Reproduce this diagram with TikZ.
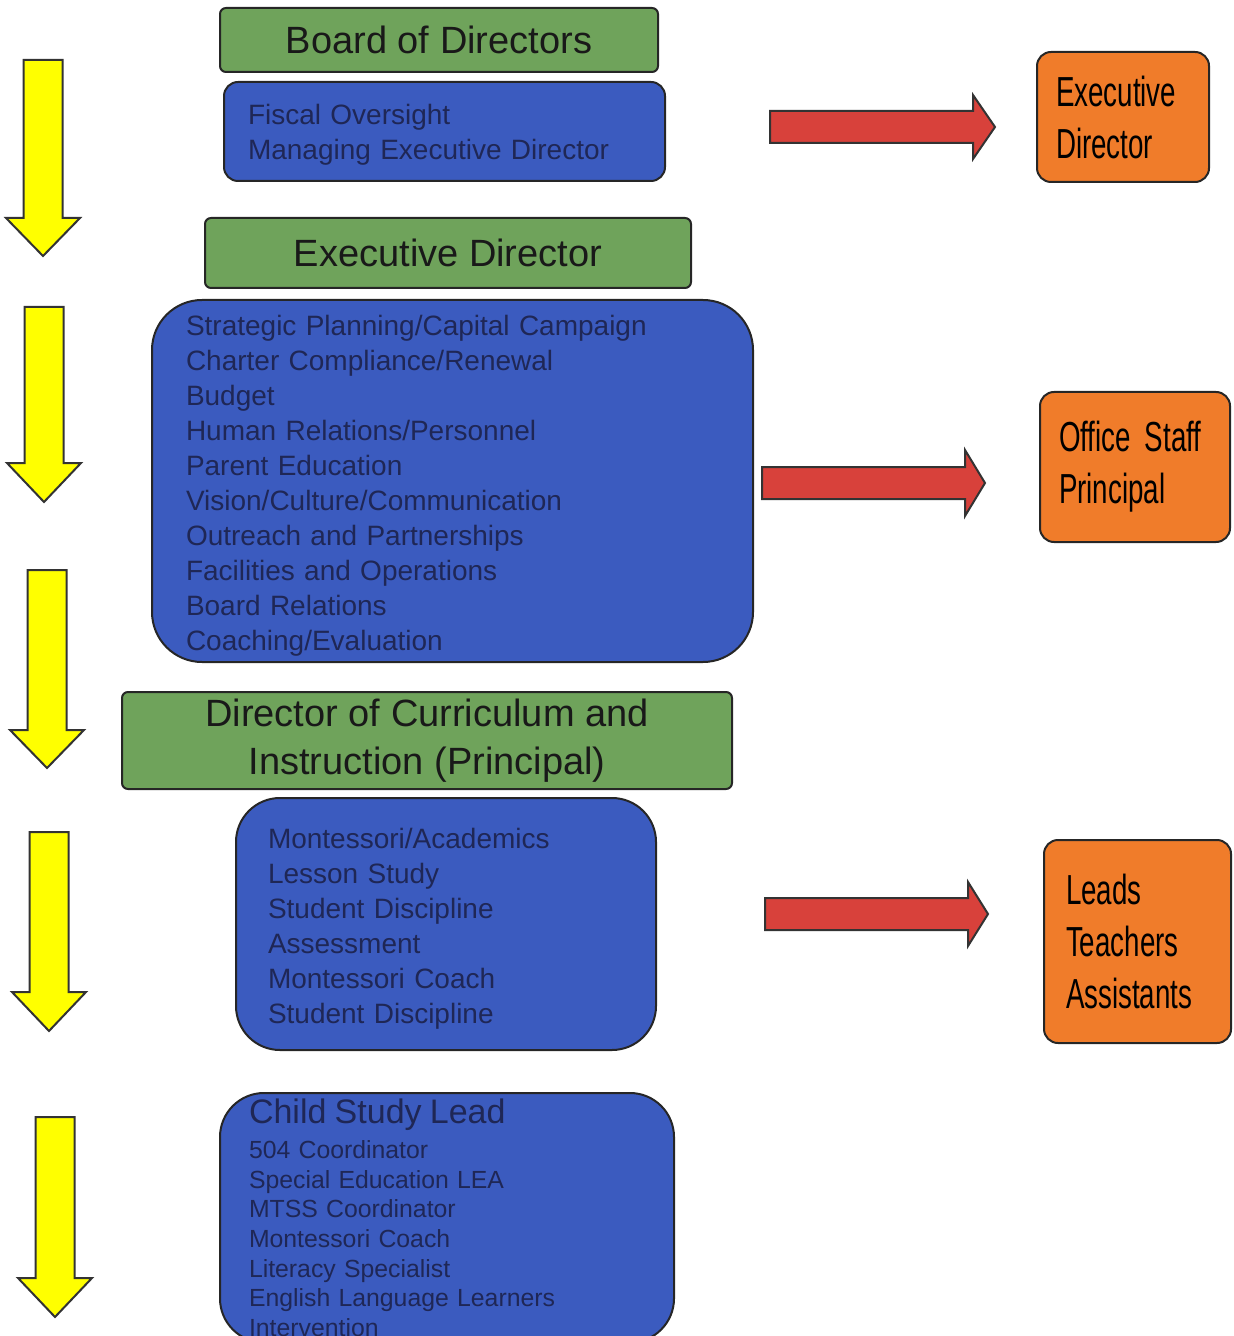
\documentclass[tikz,border=0pt]{standalone}
\usepackage{fontspec}
\setmainfont{Liberation Sans}
\newfontfamily\narrowsans[FakeStretch=0.66, WordSpace=0.7]{Liberation Sans}
\definecolor{boardGreen}{HTML}{6FA35B}
\definecolor{dutyBlue}{HTML}{3B5BBF}
\definecolor{dutyText}{HTML}{1F2756}
\definecolor{staffOrange}{HTML}{F07C2A}
\definecolor{arrowRed}{HTML}{D8413B}
\definecolor{flowYellow}{HTML}{FFFF00}
\usepackage{tikz}
\usetikzlibrary{positioning}

\begin{document}
\begin{tikzpicture}[x=0.5pt, y=-0.5pt,
  title/.style={draw=black!85, line width=1pt, fill=boardGreen,
    rounded corners=3pt, text=black!90, align=center, inner sep=0pt,
    font=\fontsize{19}{24}\selectfont},
  duty/.style={draw=black!85, line width=1pt, fill=dutyBlue,
    text=dutyText, align=left, inner ysep=0pt,
    font=\fontsize{14}{17.5}\selectfont},
  staff/.style={draw=black!85, line width=1pt, fill=staffOrange,
    rounded corners=7pt, text=black, align=left, inner ysep=0pt,
    font=\narrowsans\fontsize{21}{26}\selectfont},
  yelarrow/.style={draw=black!80, line width=1pt, fill=flowYellow},
  redarrow/.style={draw=black!80, line width=1pt, fill=arrowRed}]
  \clip (0,0) rectangle (1233,1336);

  % left column: flow downwards
  \draw[yelarrow] (23.5,60) -- (62.5,60) -- (62.5,218) -- (80,218) -- (43,256) -- (6,218) -- (23.5,218) -- cycle;
  \draw[yelarrow] (24.5,307) -- (63.5,307) -- (63.5,463) -- (81,463) -- (44,502) -- (7,463) -- (24.5,463) -- cycle;
  \draw[yelarrow] (27.5,570) -- (66.5,570) -- (66.5,730) -- (84,730) -- (47,768) -- (10,730) -- (27.5,730) -- cycle;
  \draw[yelarrow] (29.5,832) -- (68.5,832) -- (68.5,992) -- (86,992) -- (49,1031) -- (12,992) -- (29.5,992) -- cycle;
  \draw[yelarrow] (35.5,1117) -- (74.5,1117) -- (74.5,1278) -- (92,1278) -- (55,1317) -- (18,1278) -- (35.5,1278) -- cycle;

  % roles and duties
  \node[title, minimum width=219pt, minimum height=32pt] (board) at (439,40) {Board of Directors};
  \node[duty, rounded corners=7pt, text width=196.5pt, inner xsep=12pt,
    minimum height=49.5pt] (fiscal) at (444.5,131.5) {\rule{0pt}{13pt}Fiscal Oversight\\Managing Executive Director};
  \node[title, minimum width=243pt, minimum height=35pt] (execd) at (448,253) {Executive Director};
  \node[duty, rounded corners=25pt, text width=266.5pt, inner xsep=17pt,
    minimum height=181pt] (strategy) at (452.5,481) {\rule{0pt}{15pt}Strategic Planning/Capital Campaign\\
    Charter Compliance/Renewal\\Budget\\Human Relations/Personnel\\Parent Education\\
    Vision/Culture/Communication\\Outreach and Partnerships\\Facilities and Operations\\
    Board Relations\\Coaching/Evaluation};
  \node[title, minimum width=305pt, minimum height=48.5pt] (curric) at (427,740.5) {Director of Curriculum and\\Instruction (Principal)};
  \node[duty, rounded corners=22pt, text width=178pt, inner xsep=16pt,
    minimum height=126pt] (montessori) at (446,924) {\rule{0pt}{15pt}Montessori/Academics\\Lesson Study\\
    Student Discipline\\Assessment\\Montessori Coach\\Student Discipline};
  \node[duty, rounded corners=22pt, anchor=north west, text width=198pt, inner xsep=14.5pt,
    inner ysep=3pt, font=\fontsize{12.4}{14.8}\selectfont] (childstudy) at (219,1092)
    {{\fontsize{17}{18}\selectfont Child Study Lead}\\[2.7pt]504 Coordinator\\Special Education LEA\\
    MTSS Coordinator\\Montessori Coach\\Literacy Specialist\\English Language Learners\\Intervention};

  % staff reporting
  \node[staff, text width=67pt, inner xsep=9.5pt, minimum height=65pt] (exec) at (1123,117) {Executive\\Director};
  \node[staff, text width=76pt, inner xsep=9.5pt, minimum height=75pt] (office) at (1135,467) {Office Staff\\Principal};
  \node[staff, text width=71.5pt, inner xsep=11pt, minimum height=101.5pt] (leads) at (1137.5,941.5) {Leads\\Teachers\\Assistants};

  \draw[redarrow] (770,111) -- (973,111) -- (973,95) -- (995,127) -- (973,159) -- (973,143) -- (770,143) -- cycle;
  \draw[redarrow] (762,467) -- (965,467) -- (965,450) -- (985,483) -- (965,516) -- (965,499) -- (762,499) -- cycle;
  \draw[redarrow] (765,898) -- (968,898) -- (968,882) -- (988,914) -- (968,946) -- (968,930) -- (765,930) -- cycle;
\end{tikzpicture}
\end{document}
